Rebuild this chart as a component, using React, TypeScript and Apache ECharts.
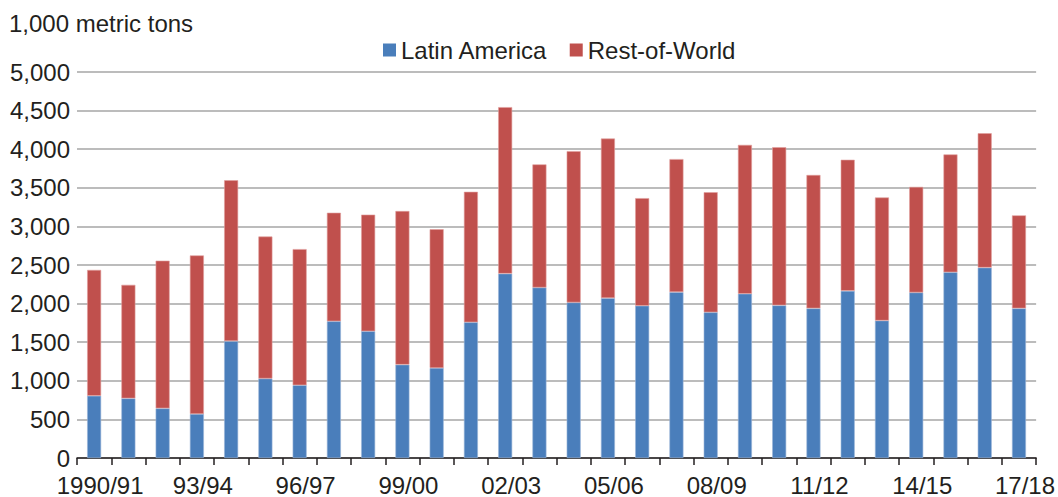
import React, { useEffect, useRef } from "react";
import * as echarts from "echarts";

const categories = [
  "1990/91", "91/92", "92/93", "93/94", "94/95", "95/96", "96/97", "97/98",
  "98/99", "99/00", "00/01", "01/02", "02/03", "03/04", "04/05", "05/06",
  "06/07", "07/08", "08/09", "09/10", "10/11", "11/12", "12/13", "13/14",
  "14/15", "15/16", "16/17", "17/18",
];

const latinAmerica = [
  806, 772, 643, 570, 1514, 1029, 943, 1771, 1642, 1209, 1166, 1758, 2388, 2208,
  2015, 2071, 1972, 2148, 1887, 2127, 1977, 1938, 2165, 1780, 2144, 2406, 2466, 1938,
];

const totals = [
  2436, 2243, 2556, 2624, 3598, 2869, 2706, 3177, 3152, 3199, 2963, 3448, 4545, 3803,
  3975, 4138, 3366, 3872, 3443, 4056, 4026, 3666, 3863, 3375, 3512, 3932, 4207, 3143,
];

const restOfWorld = totals.map((t, i) => t - latinAmerica[i]);

const yTicks = { min: 0, max: 5000, interval: 500 };

const FONT = "'Liberation Sans', Arial, Helvetica, sans-serif";
const TEXT = "#231f20";
const FS = 24;

export default function App() {
  const ref = useRef<HTMLDivElement>(null);
  useEffect(() => {
    if (!ref.current) return;
    const chart = echarts.init(ref.current, null, { renderer: "svg" });
    chart.setOption({
      animation: false,
      backgroundColor: "#ffffff",
      textStyle: { fontFamily: FONT },
      title: {
        text: "1,000 metric tons",
        left: 9,
        top: 11,
        padding: 0,
        textStyle: { fontFamily: FONT, fontSize: FS, fontWeight: "normal", color: TEXT },
      },
      legend: {
        left: 383,
        top: 38,
        padding: 0,
        itemWidth: 13,
        itemHeight: 13,
        itemGap: 22,
        icon: "rect",
        itemStyle: { borderWidth: 0 },
        textStyle: { fontFamily: FONT, fontSize: FS, color: TEXT, padding: [0, 0, 0, 0] },
        data: ["Latin America", "Rest-of-World"],
      },
      grid: { left: 77, right: 21, top: 72, bottom: 36, containLabel: false },
      xAxis: {
        type: "category",
        data: categories,
        boundaryGap: true,
        axisLine: { show: true, lineStyle: { color: "#231f20", width: 1.5 } },
        axisTick: { show: true, interval: 0, length: 7, lineStyle: { color: "#231f20", width: 1.5 } },
        axisLabel: {
          interval: 2,
          margin: 15,
          fontFamily: FONT,
          fontSize: FS,
          color: TEXT,
          padding: [0, 0, 0, 12],
        },
      },
      yAxis: {
        type: "value",
        min: yTicks.min,
        max: yTicks.max,
        interval: yTicks.interval,
        axisLine: { show: false },
        axisTick: { show: false },
        axisLabel: {
          margin: 7,
          fontFamily: FONT,
          fontSize: FS,
          color: TEXT,
          formatter: (v: number) => v.toLocaleString("en-US"),
        },
        splitLine: { show: true, lineStyle: { color: "#a6a6a6", width: 1.5 } },
      },
      series: [
        {
          name: "Latin America",
          type: "bar",
          stack: "total",
          data: latinAmerica,
          barWidth: 14,
          itemStyle: { color: "#4a7ebb", borderColor: "#9bb6d8", borderWidth: 0.6 },
        },
        {
          name: "Rest-of-World",
          type: "bar",
          stack: "total",
          data: restOfWorld,
          barWidth: 14,
          itemStyle: { color: "#c0504d", borderColor: "#e0a09e", borderWidth: 0.6 },
        },
      ],
    });
    return () => chart.dispose();
  }, []);
  return <div ref={ref} style={{ width: 1058, height: 497, position: "absolute", left: 0, top: 0 }} />;
}
